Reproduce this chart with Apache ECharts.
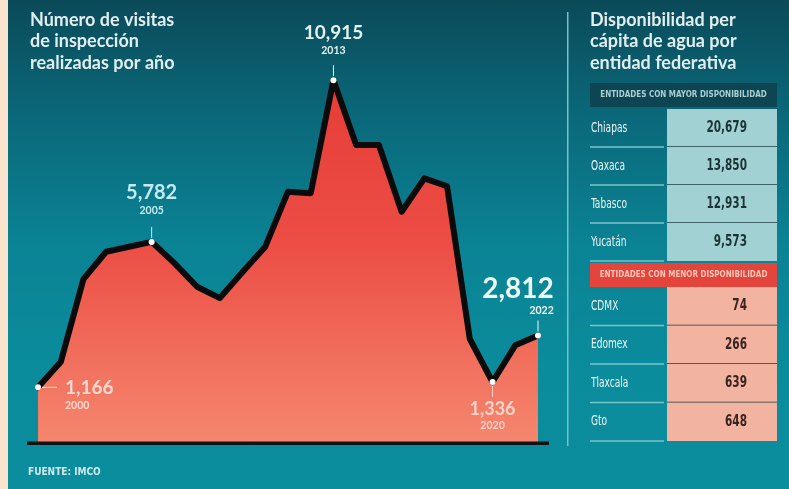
<!DOCTYPE html>
<html><head><meta charset="utf-8">
<script src="https://cdn.jsdelivr.net/npm/echarts@6/dist/echarts.min.js"></script>
<style>
html,body{margin:0;padding:0;background:#0a8d9d}
#c{width:789px;height:489px;background:linear-gradient(180deg,#0b4a59 0%,#0a6a7b 25%,#0a8395 50%,#0a8c9c 75%,#0a8d9d 100%)}
</style>
</head><body><div id="c"></div>
<script>
const years = ['2000','2001','2002','2003','2004','2005','2006','2007','2008','2009','2010','2011','2012','2013','2014','2015','2016','2017','2018','2019','2020','2021','2022'];
const visits = [1166,1968,4600,5470,5630,5782,5110,4360,4000,4825,5630,7375,7330,10915,8857,8857,6740,7800,7550,2700,1336,2500,2812];
const highlightYears = ['2000','2005','2013','2020','2022'];
const titleLeft = ['Número de visitas','de inspección','realizadas por año'];
const titleRight = ['Disponibilidad per','cápita de agua por','entidad federativa'];
const headerTop = 'ENTIDADES CON MAYOR DISPONIBILIDAD';
const statesTop = ['Chiapas','Oaxaca','Tabasco','Yucatán'];
const valuesTop = [20679,13850,12931,9573];
const headerBottom = 'ENTIDADES CON MENOR DISPONIBILIDAD';
const statesBottom = ['CDMX','Edomex','Tlaxcala','Gto'];
const valuesBottom = [74,266,639,648];
const source = 'FUENTE: IMCO';

const fmt = v => v.toLocaleString('en-US');
const FONT = 'Lato, "Noto Sans", sans-serif';
const NARROW = '"Liberation Sans Narrow", "DejaVu Sans Condensed", Lato, sans-serif';

const labelStyles = {
  '2000': {position:'right', distance:24, offset:[0,8], vSize:19, color:'#fcd8ce', align:'left'},
  '2005': {position:'top', distance:21, offset:[0,0], vSize:20, color:'#c4eaf0', align:'center'},
  '2013': {position:'top', distance:20, offset:[0,0], vSize:19, color:'#e4f1f1', align:'center'},
  '2020': {position:'bottom', distance:14, offset:[0,0], vSize:18, color:'#fbd3c8', align:'center'},
  '2022': {position:'top', distance:15, offset:[-20,0], vSize:28, color:'#eef8f6', align:'right'}
};

const seriesData = visits.map((v, i) => {
  const yr = years[i];
  if (highlightYears.indexOf(yr) < 0) return {value: v, symbol: 'none'};
  const s = labelStyles[yr];
  return {
    value: v, symbol: 'circle', symbolSize: 6,
    itemStyle: {color: '#ffffff', borderWidth: 0},
    label: {
      show: true, position: s.position, distance: s.distance, offset: s.offset,
      formatter: '{v|' + fmt(v) + '}\n{y|' + yr + '}',
      rich: {
        v: {fontFamily: FONT, fontWeight: 'bold', fontSize: s.vSize, color: s.color, lineHeight: s.vSize + 2, align: s.align},
        y: {fontFamily: FONT, fontWeight: 'bold', fontSize: 10.5, color: s.color, lineHeight: 14, align: s.align}
      }
    }
  };
});

function tableRenderer(cellColor, textColor) {
  return function (params, api) {
    const idx = params.dataIndex;
    const c = api.coord([0, idx]);
    const h = api.size([0, 1])[1];
    const left = params.coordSys.x, width = params.coordSys.width;
    const top = c[1] - h / 2, bottom = c[1] + h / 2;
    const split = 77;
    const children = [
      {type: 'rect', shape: {x: left + split, y: top, width: width - split, height: h}, style: {fill: cellColor}},
      {type: 'line', shape: {x1: left, y1: bottom, x2: left + split - 3, y2: bottom}, style: {stroke: '#7cc4ca', lineWidth: 1.5}},
      {type: 'text', x: left + 1, y: c[1], scaleX: 0.72,
       style: {x: 0, y: 0, text: api.value(2), fill: '#eef4f4', font: '14px ' + NARROW, verticalAlign: 'middle', align: 'left'}},
      {type: 'text', x: left + width - 30, y: c[1], scaleX: 0.78,
       style: {x: 0, y: 0, text: api.value(3), fill: textColor, font: 'bold 15px ' + NARROW, verticalAlign: 'middle', align: 'right'}}
    ];
    if (idx < 3) children.push({type: 'line', shape: {x1: left + split, y1: bottom, x2: left + width, y2: bottom}, style: {stroke: '#1d3c42', lineWidth: 1.5}});
    return {type: 'group', children: children};
  };
}

const chart = echarts.init(document.getElementById('c'), null, {renderer: 'canvas'});

const textLines = (lines, x, y, lh, style) => lines.map((t, i) => ({
  type: 'text', left: x, top: y + i * lh, silent: true,
  style: Object.assign({text: t}, style)
}));

const headerBand = (y, fill, text, textFill) => ({
  type: 'rect', x: 590, y: y, silent: true,
  shape: {width: 187, height: 24}, style: {fill: fill},
  textContent: {style: {text: text, fill: textFill, font: 'bold 8px ' + NARROW}},
  textConfig: {position: 'inside'}
});

const graphics = [
  {type: 'rect', left: 0, top: 0, shape: {width: 8, height: 489}, style: {fill: '#fbe4cd'}, silent: true},
  {type: 'rect', left: 567, top: 12, shape: {width: 1.5, height: 434}, style: {fill: '#74c2ca'}, silent: true},
  {type: 'rect', left: 27, top: 441.5, shape: {width: 522, height: 3.5}, style: {fill: '#121212'}, silent: true, z: 10},
  headerBand(83, '#0e4552', headerTop, '#a9cfd2'),
  headerBand(263, '#e4443b', headerBottom, '#f8c8b8'),
  {type: 'text', left: 28, top: 467, silent: true, style: {text: source, fill: '#cfe8ea', font: 'bold 10px ' + NARROW}}
].concat(
  textLines(titleLeft, 30, 11, 21.5, {fill: '#e2eeee', font: 'bold 18px ' + FONT}),
  textLines(titleRight, 590, 11, 21.5, {fill: '#e2eeee', font: 'bold 18px ' + FONT})
);

chart.setOption({
  animation: false,
  grid: [
    {left: 38, right: 251, top: 46, bottom: 46},
    {left: 590, width: 187, top: 109, height: 152},
    {left: 590, width: 187, top: 287, height: 154}
  ],
  xAxis: [
    {type: 'category', gridIndex: 0, data: years, boundaryGap: false, show: false},
    {type: 'value', gridIndex: 1, min: 0, max: 1, show: false},
    {type: 'value', gridIndex: 2, min: 0, max: 1, show: false}
  ],
  yAxis: [
    {type: 'value', gridIndex: 0, min: -600, max: 12000, show: false},
    {type: 'category', gridIndex: 1, data: statesTop, inverse: true, show: false},
    {type: 'category', gridIndex: 2, data: statesBottom, inverse: true, show: false}
  ],
  series: [
    {
      type: 'line', xAxisIndex: 0, yAxisIndex: 0, data: seriesData,
      showSymbol: true, showAllSymbol: true, z: 5,
      lineStyle: {color: '#0b0b0b', width: 6, join: 'round', cap: 'round'},
      areaStyle: {origin: 'start', opacity: 1, color: new echarts.graphic.LinearGradient(0, 0, 0, 1, [
        {offset: 0, color: '#e53d37'}, {offset: 0.45, color: '#ec4d44'}, {offset: 1, color: '#f5876f'}
      ])},
      emphasis: {disabled: true}
    },
    {
      type: 'custom', xAxisIndex: 1, yAxisIndex: 1,
      data: statesTop.map((s, i) => [0, i, s, fmt(valuesTop[i])]),
      renderItem: tableRenderer('#a2d1d3', '#1c3436'), silent: true
    },
    {
      type: 'custom', xAxisIndex: 2, yAxisIndex: 2,
      data: statesBottom.map((s, i) => [0, i, s, fmt(valuesBottom[i])]),
      renderItem: tableRenderer('#f3b3a1', '#3a2420'), silent: true
    }
  ],
  graphic: graphics
});

// leader lines from marked points to their labels
const leaders = [];
highlightYears.forEach(yr => {
  const i = years.indexOf(yr);
  const p = chart.convertToPixel({seriesIndex: 0}, [i, visits[i]]);
  const col = labelStyles[yr].color;
  let shape;
  if (labelStyles[yr].position === 'right') shape = {x1: p[0] + 4, y1: p[1], x2: p[0] + 19, y2: p[1]};
  else if (labelStyles[yr].position === 'bottom') shape = {x1: p[0], y1: p[1] + 4, x2: p[0], y2: p[1] + 15};
  else shape = {x1: p[0], y1: p[1] - 4, x2: p[0], y2: p[1] - 15};
  leaders.push({type: 'line', shape: shape, style: {stroke: col, lineWidth: 1}, silent: true, z: 20});
});
chart.setOption({graphic: graphics.concat(leaders)});
</script>
</body></html>
